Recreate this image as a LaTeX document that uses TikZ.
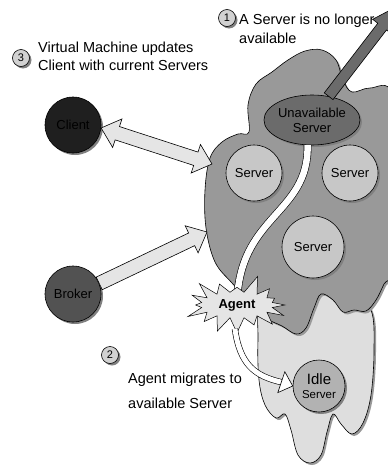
\documentclass[tikz,border=0pt]{standalone}
\usepackage{fontspec}
\setmainfont{Liberation Sans}
\usepackage{xcolor}
\usetikzlibrary{arrows.meta,positioning,shapes.geometric,shapes.symbols,calc,shadows}

\definecolor{vmdark}{gray}{0.60}
\definecolor{vmlight}{gray}{0.87}
\definecolor{serverfill}{gray}{0.78}
\definecolor{lostfill}{gray}{0.42}
\definecolor{clientfill}{gray}{0.12}
\definecolor{brokerfill}{gray}{0.32}
\definecolor{idlefill}{gray}{0.70}
\definecolor{arrowfill}{gray}{0.90}
\definecolor{numfill}{gray}{0.82}
\definecolor{agentfill}{gray}{0.90}

% wide arrow: style, from, to, half shaft, half head, head length
\newcommand{\blockarrow}[6]{%
  \coordinate (ba1) at ($(#3)!#6!(#2)$);
  \path[#1] ($(#2)!#4!90:(#3)$) -- ($(ba1)!#4!-90:(#2)$) -- ($(ba1)!#5!-90:(#2)$)
    -- (#3) -- ($(ba1)!#5!90:(#2)$) -- ($(ba1)!#4!90:(#2)$) -- ($(#2)!#4!-90:(#3)$) -- cycle;
}
% wide arrow with a head at both ends
\newcommand{\twowayarrow}[6]{%
  \coordinate (ba1) at ($(#3)!#6!(#2)$);
  \coordinate (ba2) at ($(#2)!#6!(#3)$);
  \path[#1] (#2) -- ($(ba2)!#5!90:(#3)$) -- ($(ba2)!#4!90:(#3)$) -- ($(ba1)!#4!-90:(#2)$)
    -- ($(ba1)!#5!-90:(#2)$) -- (#3) -- ($(ba1)!#5!90:(#2)$) -- ($(ba1)!#4!90:(#2)$)
    -- ($(ba2)!#4!-90:(#3)$) -- ($(ba2)!#5!-90:(#3)$) -- cycle;
}

\begin{document}
\begin{tikzpicture}[
  x=1pt, y=-1pt,
  font=\fontsize{13}{15}\selectfont,
  shade/.style={drop shadow={shadow xshift=2pt, shadow yshift=-2pt, fill=black!50, opacity=1}},
  host/.style={circle, draw, line width=0.6pt, inner sep=0pt, align=center, minimum size=56pt, shade},
  server/.style={host, fill=serverfill},
  numcirc/.style={circle, draw, line width=0.6pt, fill=numfill, minimum size=17pt, inner sep=0pt,
    font=\fontsize{11}{12}\selectfont, shade},
  note/.style={anchor=west, align=left, inner sep=0pt, font=\fontsize{14.5}{19}\selectfont},
  vmcloud/.style={draw, line width=0.6pt, drop shadow={shadow xshift=2pt, shadow yshift=-2pt, fill=black!40, opacity=1}},
  pipe/.style={line width=0.6pt, double=white, double distance=6.5pt},
  wide/.style={draw, line width=0.6pt, fill=arrowfill},
]
  \useasboundingbox (0,0) rectangle (388,466);
  \clip (0,0) rectangle (388,466);

  % Clouds
  \draw[vmcloud, fill=vmlight] plot[smooth cycle, tension=0.6] coordinates {
    (262,300) (258,340) (259,380) (265,405) (276,418) (285,414) (291,430) (298,455) (310,463)
    (321,455) (327,432) (333,414) (341,424) (352,434) (363,423) (371,395) (374,350) (371,310)
    (350,290) (300,290)};
  \draw[vmcloud, fill=vmdark] plot[smooth cycle, tension=0.6] coordinates {
    (249,132) (248,105) (256,84) (272,72) (288,60) (305,51) (322,50) (336,60) (343,80) (352,92)
    (370,88) (392,94) (396,180) (392,268) (384,284) (376,300) (366,311) (354,310) (343,312)
    (333,300) (321,294) (314,308) (306,328) (296,334) (282,326) (266,318) (250,302) (232,283)
    (215,262) (206,228) (205,190) (210,158) (222,142) (238,134)};

  % Servers
  \node[ellipse, draw, line width=0.6pt, fill=lostfill, minimum width=76pt, minimum height=50pt,
    inner sep=0pt, align=center, shade] (lost) at (312,120) {Unavailable\\Server};
  \node[server] (srvl) at (254,173) {Server};
  \node[server] (srvr) at (350,173) {Server};
  \node[server, minimum size=62pt] (srvb) at (313,247) {Server};

  \coordinate (gone) at (398,6);
  \blockarrow{draw, line width=0.6pt, fill=lostfill}{lost.55}{gone}{5.5pt}{12pt}{26pt}

  % Agent path
  \coordinate (agentpos) at (237,305);
  \draw[pipe] (lost.-100) .. controls (309,215) and (238,215) .. (agentpos);

  % Client and broker
  \node[host, fill=clientfill] (client) at (73,125) {Client};
  \node[host, fill=brokerfill] (broker) at (73,294) {Broker};
  \coordinate (vmleft) at (212,164);
  \coordinate (vmlow) at (207,232);
  \twowayarrow{wide}{client.-6}{vmleft}{7pt}{15pt}{17pt}
  \blockarrow{wide}{broker.22}{vmlow}{7pt}{15pt}{17pt}

  % Agent
  \node[starburst, draw, fill=agentfill, line width=0.5pt, minimum width=108pt, minimum height=62pt,
    starburst points=16, starburst point height=18pt, random starburst=23, inner sep=0pt,
    font=\bfseries\fontsize{13}{14}\selectfont] (agent) at (agentpos) {Agent};

  % Idle server
  \node[host, fill=idlefill, minimum size=52pt] (idle) at (319,386)
    {{\fontsize{15}{14}\selectfont Idle}\\[-1pt]{\fontsize{11.5}{12}\selectfont Server}};
  \coordinate (ah) at ($(idle.west)!12pt!(263,376)$);
  \draw[pipe, double distance=5pt] (agent.-95) .. controls (240,365) and (255,376) .. (ah);
  \path[draw, line width=0.6pt, fill=white] ($(ah)!11pt!90:(idle.west)$) -- (idle.west)
    -- ($(ah)!11pt!-90:(idle.west)$) -- cycle;

  % Steps
  \node[numcirc] (n1) at (227,18) {1};
  \node[note] (t1) at (239,29) {A Server is no longer\\available};
  \node[numcirc] (n3) at (21,58) {3};
  \node[note, font=\fontsize{14.5}{18}\selectfont] (t3) at (38,56) {Virtual Machine updates\\Client with current Servers};
  \node[numcirc] (n2) at (110,355) {2};
  \node[note, font=\fontsize{14.5}{25}\selectfont] (t2) at (128,391) {Agent migrates to\\available Server};
\end{tikzpicture}
\end{document}
